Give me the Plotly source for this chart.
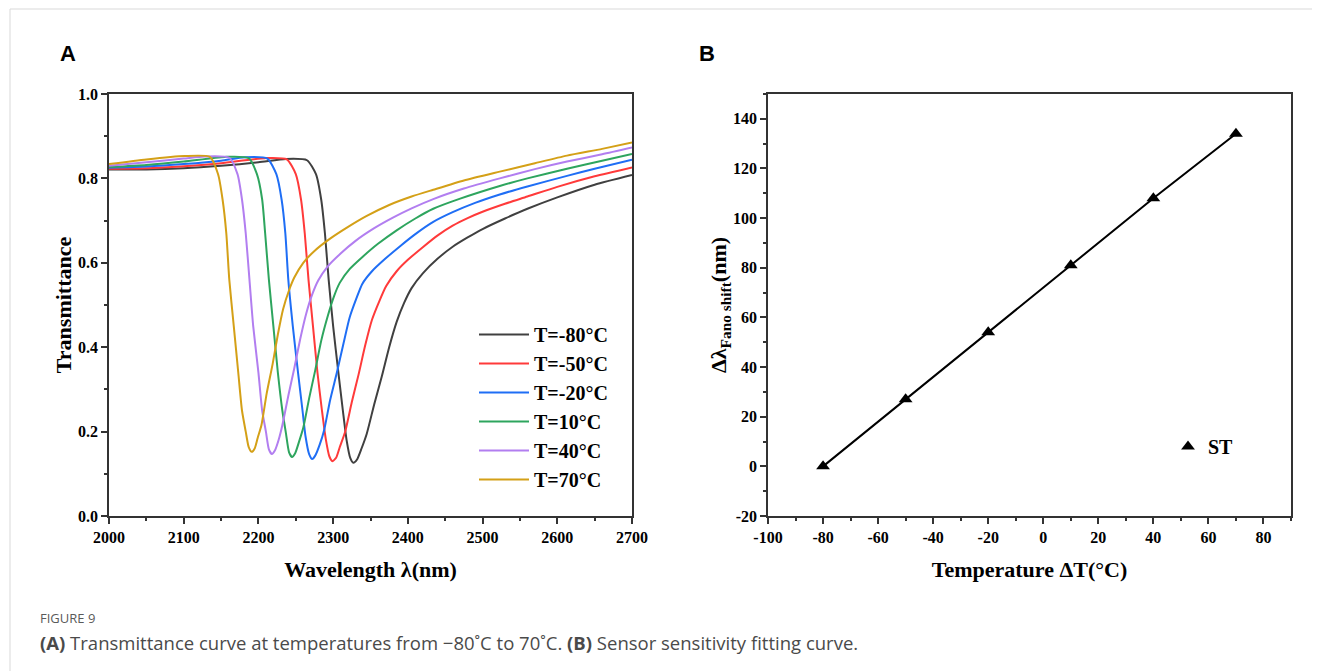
import plotly.graph_objects as go

# ---------------- Panel A data ----------------
labels_a = ["T=-80°C", "T=-50°C", "T=-20°C", "T=10°C", "T=40°C", "T=70°C"]
colors_a = ["#404040", "#ff3a3a", "#1f6ef5", "#2ea55e", "#b27ef0", "#d4a017"]

wl_m80 = [2000, 2050, 2100, 2150, 2200, 2237, 2265, 2277, 2284, 2289, 2294, 2300, 2307, 2313, 2318, 2323, 2327,
          2332, 2338, 2345, 2355, 2365, 2375, 2385, 2395, 2405, 2420, 2440, 2460, 2480, 2500, 2530, 2560, 2600, 2650, 2700]
tr_m80 = [0.821, 0.821, 0.824, 0.830, 0.838, 0.846, 0.843, 0.81, 0.75, 0.67, 0.56, 0.45, 0.34, 0.25, 0.18, 0.137, 0.126,
          0.134, 0.16, 0.195, 0.265, 0.33, 0.40, 0.46, 0.505, 0.54, 0.575, 0.61, 0.638, 0.66, 0.68, 0.705, 0.728, 0.755, 0.785, 0.808]

wl_m50 = [2000, 2050, 2100, 2150, 2209, 2238, 2250, 2257, 2262, 2267, 2273, 2279, 2285, 2290, 2295, 2299,
          2304, 2309, 2316, 2325, 2334, 2343, 2352, 2362, 2371, 2385, 2400, 2420, 2440, 2460, 2480, 2500, 2530, 2560, 2600, 2650, 2700]
tr_m50 = [0.823, 0.824, 0.829, 0.836, 0.848, 0.845, 0.81, 0.75, 0.67, 0.56, 0.45, 0.34, 0.25, 0.184, 0.141, 0.130,
          0.138, 0.164, 0.199, 0.27, 0.335, 0.405, 0.465, 0.51, 0.545, 0.58, 0.607, 0.637, 0.665, 0.688, 0.706, 0.721, 0.740, 0.757, 0.780, 0.805, 0.826]

wl_m20 = [2000, 2050, 2100, 2150, 2182, 2212, 2224, 2231, 2236, 2240, 2246, 2253, 2259, 2263, 2268, 2272,
          2276, 2282, 2288, 2296, 2305, 2314, 2322, 2331, 2339, 2352, 2370, 2390, 2410, 2434, 2460, 2490, 2523, 2560, 2613, 2650, 2700]
tr_m20 = [0.825, 0.828, 0.834, 0.842, 0.850, 0.847, 0.81, 0.75, 0.67, 0.56, 0.45, 0.34, 0.25, 0.189, 0.146, 0.135,
          0.143, 0.169, 0.204, 0.275, 0.34, 0.41, 0.47, 0.515, 0.55, 0.58, 0.61, 0.64, 0.668, 0.697, 0.72, 0.742, 0.762, 0.781, 0.806, 0.823, 0.844]

wl_p10 = [2000, 2050, 2100, 2155, 2187, 2198, 2205, 2209, 2214, 2220, 2226, 2232, 2237, 2241, 2245,
          2249, 2254, 2260, 2268, 2276, 2284, 2293, 2301, 2309, 2322, 2340, 2360, 2385, 2410, 2434, 2470, 2523, 2560, 2613, 2660, 2700]
tr_p10 = [0.827, 0.832, 0.840, 0.851, 0.848, 0.81, 0.75, 0.67, 0.56, 0.45, 0.34, 0.25, 0.194, 0.151, 0.140,
          0.148, 0.174, 0.209, 0.28, 0.345, 0.415, 0.475, 0.52, 0.553, 0.585, 0.615, 0.645, 0.677, 0.705, 0.728, 0.752, 0.782, 0.800, 0.823, 0.842, 0.858]

wl_p40 = [2000, 2050, 2100, 2128, 2161, 2172, 2178, 2183, 2188, 2193, 2200, 2205, 2210, 2214, 2218,
          2222, 2227, 2232, 2240, 2248, 2256, 2264, 2272, 2280, 2292, 2310, 2330, 2355, 2380, 2405, 2434, 2475, 2523, 2570, 2613, 2660, 2700]
tr_p40 = [0.830, 0.838, 0.847, 0.852, 0.849, 0.81, 0.75, 0.67, 0.56, 0.45, 0.34, 0.25, 0.20, 0.158, 0.147,
          0.155, 0.18, 0.215, 0.285, 0.35, 0.42, 0.48, 0.525, 0.558, 0.59, 0.622, 0.652, 0.682, 0.707, 0.729, 0.751, 0.776, 0.800, 0.822, 0.840, 0.857, 0.873]

wl_p70 = [2000, 2050, 2101, 2135, 2146, 2152, 2157, 2161, 2167, 2173, 2178, 2183, 2187, 2191,
          2195, 2199, 2204, 2211, 2219, 2226, 2233, 2241, 2248, 2260, 2275, 2295, 2320, 2345, 2375, 2405, 2434, 2475, 2523, 2570, 2613, 2660, 2700]
tr_p70 = [0.834, 0.845, 0.853, 0.851, 0.81, 0.75, 0.67, 0.56, 0.45, 0.34, 0.25, 0.20, 0.163, 0.152,
          0.160, 0.185, 0.215, 0.29, 0.36, 0.43, 0.49, 0.535, 0.565, 0.60, 0.628, 0.656, 0.685, 0.711, 0.737, 0.757, 0.773, 0.795, 0.816, 0.836, 0.854, 0.870, 0.885]

wl_series = [wl_m80, wl_m50, wl_m20, wl_p10, wl_p40, wl_p70]
tr_series = [tr_m80, tr_m50, tr_m20, tr_p10, tr_p40, tr_p70]

x_ticks_a = [2000, 2100, 2200, 2300, 2400, 2500, 2600, 2700]
y_ticks_a = [0.0, 0.2, 0.4, 0.6, 0.8, 1.0]

# ---------------- Panel B data ----------------
delta_t = [-80, -50, -20, 10, 40, 70]
fano_shift = [0, 27, 54, 81, 108, 134]
x_ticks_b = [-100, -80, -60, -40, -20, 0, 20, 40, 60, 80]
y_ticks_b = [-20, 0, 20, 40, 60, 80, 100, 120, 140]

SERIF = "Liberation Serif, Times New Roman, serif"
fig = go.Figure()

for i, (wl, tr) in enumerate(zip(wl_series, tr_series)):
    fig.add_trace(go.Scatter(
        x=wl, y=tr, mode="lines", name=labels_a[i],
        line=dict(color=colors_a[i], width=2, shape="spline", smoothing=0.6),
        xaxis="x", yaxis="y", legend="legend"))

fig.add_trace(go.Scatter(
    x=delta_t, y=fano_shift, mode="lines", showlegend=False,
    line=dict(color="black", width=2), xaxis="x2", yaxis="y2"))
fig.add_trace(go.Scatter(
    x=delta_t, y=fano_shift, mode="markers", name="ST",
    marker=dict(symbol="triangle-up", size=12, color="black"),
    xaxis="x2", yaxis="y2", legend="legend2"))

W, H = 1320, 671
OFF = 8  # page offset of the plot div in the browser window


def px(x):
    return (x - OFF) / W


def py(y):
    return 1 - (y - OFF) / H


def tick_text(vals, fmt):
    return [fmt.format(v).replace("\u2212", "-") for v in vals]


axis_common = dict(
    showline=True, linecolor="#333", linewidth=1.6, mirror=True,
    ticks="outside", ticklen=6, tickwidth=1.5, tickcolor="#333",
    showgrid=False, zeroline=False, automargin=False,
    tickfont=dict(family=SERIF, size=16, color="black", weight="bold"),
)
title_font = dict(family=SERIF, size=22, color="black", weight="bold")

fig.update_layout(
    width=W, height=H, margin=dict(l=0, r=0, t=0, b=0, autoexpand=False),
    paper_bgcolor="white", plot_bgcolor="white",
    xaxis=dict(domain=[px(109), px(632)], range=[2000, 2700],
               tickmode="array", tickvals=x_ticks_a, ticktext=tick_text(x_ticks_a, "{:d}"),
               minor=dict(ticks="outside", ticklen=3, dtick=50, tickcolor="#333"),
               title=dict(text="Wavelength λ(nm)", standoff=17, font=title_font),
               anchor="y", **axis_common),
    yaxis=dict(domain=[py(516), py(94)], range=[0, 1.0],
               tickmode="array", tickvals=y_ticks_a, ticktext=tick_text(y_ticks_a, "{:.1f}"),
               minor=dict(ticks="outside", ticklen=3, dtick=0.1, tickcolor="#333"),
               title=dict(text="Transmittance", standoff=0, font=title_font),
               anchor="x", **axis_common),
    xaxis2=dict(domain=[px(768), px(1291)], range=[-100, 90],
                tickmode="array", tickvals=x_ticks_b, ticktext=tick_text(x_ticks_b, "{:d}"),
                minor=dict(ticks="outside", ticklen=3, dtick=10, tickcolor="#333"),
                title=dict(text="Temperature ΔT(°C)", standoff=17, font=title_font),
                anchor="y2", **axis_common),
    yaxis2=dict(domain=[py(516), py(94)], range=[-20, 150],
                tickmode="array", tickvals=y_ticks_b, ticktext=tick_text(y_ticks_b, "{:d}"),
                minor=dict(ticks="outside", ticklen=3, dtick=10, tickcolor="#333"),
                title=dict(text="Δλ<sub>Fano shift</sub>(nm)", standoff=0, font=title_font),
                anchor="x2", **axis_common),
    legend=dict(x=px(474), y=py(315), xanchor="left", yanchor="top",
                bgcolor="rgba(0,0,0,0)", itemwidth=50,
                font=dict(family=SERIF, size=20, color="black", weight="bold")),
    legend2=dict(x=px(1168), y=py(427), xanchor="left", yanchor="top",
                 bgcolor="rgba(0,0,0,0)",
                 font=dict(family=SERIF, size=20, color="black", weight="bold")),
    showlegend=True,
)

# panel letters and caption
fig.add_annotation(x=px(58), y=py(53), xref="paper", yref="paper", text="<b>A</b>", showarrow=False,
                   xanchor="left", yanchor="middle", font=dict(family="Liberation Sans, Arial", size=22, color="black"))
fig.add_annotation(x=px(697), y=py(53), xref="paper", yref="paper", text="<b>B</b>", showarrow=False,
                   xanchor="left", yanchor="middle", font=dict(family="Liberation Sans, Arial", size=22, color="black"))
fig.add_annotation(x=px(38), y=py(618), xref="paper", yref="paper", text="FIGURE 9", showarrow=False,
                   xanchor="left", yanchor="middle", font=dict(family="Open Sans, Noto Sans", size=13, color="#5a5a5a"))
fig.add_annotation(x=px(38), y=py(642), xref="paper", yref="paper",
                   text="<b>(A)</b> Transmittance curve at temperatures from \u221280\u02daC to 70\u02daC. <b>(B)</b> Sensor sensitivity fitting curve.",
                   showarrow=False, xanchor="left", yanchor="middle",
                   font=dict(family="Open Sans, Noto Sans", size=18.5, color="#4a4a4a"))

# card border
fig.add_shape(type="line", xref="paper", yref="paper", x0=px(10), x1=1, y0=py(9), y1=py(9),
              line=dict(color="#d9d9d9", width=1))
fig.add_shape(type="line", xref="paper", yref="paper", x0=px(10), x1=px(10), y0=py(9), y1=0,
              line=dict(color="#d9d9d9", width=1))

fig.write_html("out.html")
